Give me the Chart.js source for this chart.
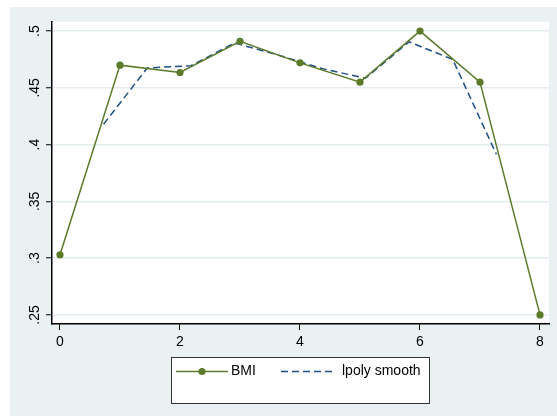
<!DOCTYPE html>
<html>
<head>
<meta charset="utf-8">
<script src="https://cdn.jsdelivr.net/npm/chart.js@4/dist/chart.umd.min.js"></script>
<style>
  html, body { margin: 0; padding: 0; background: #ffffff; }
  canvas { display: block; }
</style>
</head>
<body>
<canvas id="c" width="557" height="416"></canvas>
<script>
// Axis ticks
const xTicks = [0, 2, 4, 6, 8];
const yTicks = [0.25, 0.3, 0.35, 0.4, 0.45, 0.5];
const yTickLabels = ['.25', '.3', '.35', '.4', '.45', '.5'];

// Observed BMI share by group
const bmiX = [0, 1, 2, 3, 4, 5, 6, 7, 8];
const bmiY = [0.303, 0.470, 0.4635, 0.491, 0.472, 0.455, 0.500, 0.455, 0.250];

// Local polynomial smooth evaluated on its grid
const smoothX = [0.727, 1.455, 2.182, 2.909, 3.636, 4.364, 5.091, 5.818, 6.545, 7.273];
const smoothY = [0.418, 0.4675, 0.4695, 0.4895, 0.479, 0.467, 0.4585, 0.4905, 0.475, 0.3915];

const seriesNames = ['BMI', 'lpoly smooth'];

const GREEN = '#5b7b2b';
const BLUE = '#1f4f85';
const BG = '#eaf1f3';
const FONT = '"Liberation Sans", Arial, sans-serif';
const FONT_SIZE = 14;

const toPoints = (xs, ys) => xs.map((x, i) => ({ x: x, y: ys[i] }));

const backdrop = {
  id: 'backdrop',
  beforeDraw(chart) {
    const { ctx, chartArea: a } = chart;
    ctx.save();
    ctx.fillStyle = '#ffffff';
    ctx.fillRect(0, 0, chart.width, chart.height);
    ctx.fillStyle = BG;
    ctx.fillRect(10, 7, chart.width - 10, chart.height - 7);
    ctx.fillStyle = '#ffffff';
    ctx.fillRect(a.left, a.top, a.right - a.left, a.bottom - a.top);
    ctx.restore();
  }
};

// Vertical (rotated) y tick labels and the boxed legend below the plot
const extras = {
  id: 'extras',
  afterDraw(chart) {
    const { ctx } = chart;
    const y = chart.scales.y;
    ctx.save();
    ctx.fillStyle = '#000';
    ctx.font = FONT_SIZE + 'px ' + FONT;
    ctx.textAlign = 'center';
    ctx.textBaseline = 'middle';
    yTicks.forEach((v, i) => {
      const py = y.getPixelForValue(v);
      ctx.save();
      ctx.translate(35, py);
      ctx.rotate(-Math.PI / 2);
      ctx.fillText(yTickLabels[i], 0, 0);
      ctx.restore();
    });

    // legend box
    const bx = 171, by = 357, bw = 258, bh = 46;
    ctx.fillStyle = '#ffffff';
    ctx.fillRect(bx, by, bw, bh);
    ctx.strokeStyle = '#333';
    ctx.lineWidth = 1;
    ctx.strokeRect(bx + 0.5, by + 0.5, bw, bh);

    const ly = 371.5;
    const ds = chart.data.datasets;
    // BMI entry
    ctx.strokeStyle = ds[0].borderColor;
    ctx.lineWidth = ds[0].borderWidth;
    ctx.beginPath();
    ctx.moveTo(176, ly);
    ctx.lineTo(228, ly);
    ctx.stroke();
    ctx.fillStyle = ds[0].pointBackgroundColor;
    ctx.beginPath();
    ctx.arc(202, ly, ds[0].pointRadius, 0, Math.PI * 2);
    ctx.fill();
    // smooth entry
    ctx.strokeStyle = ds[1].borderColor;
    ctx.lineWidth = ds[1].borderWidth;
    ctx.setLineDash(ds[1].borderDash);
    ctx.beginPath();
    ctx.moveTo(281, ly);
    ctx.lineTo(334, ly);
    ctx.stroke();
    ctx.setLineDash([]);

    ctx.fillStyle = '#000';
    ctx.font = FONT_SIZE + 'px ' + FONT;
    ctx.textAlign = 'left';
    ctx.textBaseline = 'middle';
    ctx.fillText(ds[0].label, 231, ly);
    ctx.fillText(ds[1].label, 342, ly);
    ctx.restore();
  }
};

new Chart(document.getElementById('c'), {
  type: 'scatter',
  data: {
    datasets: [
      {
        label: seriesNames[0],
        data: toPoints(bmiX, bmiY),
        showLine: true,
        borderColor: GREEN,
        backgroundColor: GREEN,
        pointBackgroundColor: GREEN,
        pointBorderColor: GREEN,
        pointRadius: 3.6,
        pointBorderWidth: 0,
        borderWidth: 1.5,
        tension: 0
      },
      {
        label: seriesNames[1],
        data: toPoints(smoothX, smoothY),
        showLine: true,
        borderColor: BLUE,
        backgroundColor: BLUE,
        pointRadius: 0,
        borderWidth: 1.5,
        borderDash: [7, 4],
        tension: 0
      }
    ]
  },
  options: {
    responsive: false,
    animation: false,
    events: [],
    layout: { padding: { left: 0, top: 22, right: 8, bottom: 0 } },
    plugins: {
      legend: { display: false },
      tooltip: { enabled: false }
    },
    scales: {
      x: {
        type: 'linear',
        min: -0.133,
        max: 8.15,
        afterBuildTicks(s) { s.ticks = xTicks.map(v => ({ value: v })); },
        afterFit(s) { s.height = 92; },
        ticks: {
          color: '#000',
          font: { family: FONT, size: FONT_SIZE },
          padding: 4,
          maxRotation: 0,
          callback: v => String(v)
        },
        grid: {
          drawOnChartArea: false,
          drawTicks: true,
          tickLength: 6,
          tickColor: '#000',
          tickWidth: 1
        },
        border: { display: true, color: '#000', width: 1.5 }
      },
      y: {
        type: 'linear',
        min: 0.242,
        max: 0.508,
        afterBuildTicks(s) { s.ticks = yTicks.map(v => ({ value: v })); },
        afterFit(s) { s.width = 52; },
        ticks: { display: false },
        grid: {
          color: '#e3ecee',
          lineWidth: 1.5,
          drawTicks: true,
          tickLength: 6,
          tickColor: '#000',
          tickWidth: 1
        },
        border: { display: true, color: '#000', width: 1.5 }
      }
    }
  },
  plugins: [backdrop, extras]
});
</script>
</body>
</html>
